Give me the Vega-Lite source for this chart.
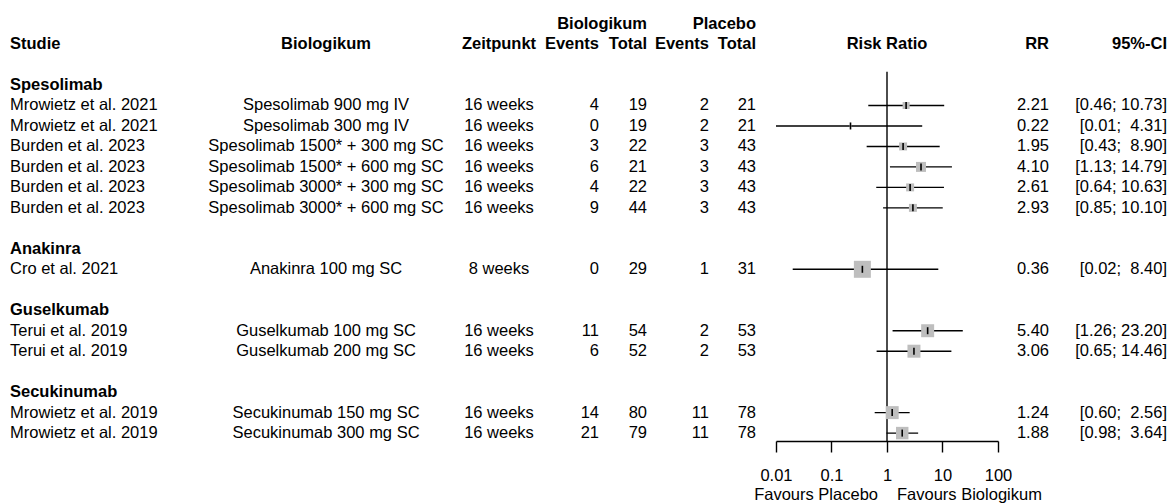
{
  "$schema": "https://vega.github.io/schema/vega-lite/v6.json",
  "padding": {"left": 10, "top": 0, "right": 0, "bottom": 0},
  "background": "white",
  "config": {
    "view": {"stroke": null},
    "text": {"font": "Liberation Sans", "fontSize": 16.5, "color": "black"},
    "concat": {"spacing": 0}
  },
  "datasets": {
    "studies": [
      {"row": 1, "studie": "Mrowietz et al. 2021", "bio": "Spesolimab 900 mg IV", "zeit": "16 weeks", "ev1": 4, "n1": 19, "ev2": 2, "n2": 21, "rr": 2.21, "lo": 0.46, "hi": 10.73, "ci": "[0.46; 10.73]", "w": 3.8},
      {"row": 2, "studie": "Mrowietz et al. 2021", "bio": "Spesolimab 300 mg IV", "zeit": "16 weeks", "ev1": 0, "n1": 19, "ev2": 2, "n2": 21, "rr": 0.22, "lo": 0.01, "hi": 4.31, "ci": "[0.01; \u00a04.31]", "w": 0.3},
      {"row": 3, "studie": "Burden et al. 2023", "bio": "Spesolimab 1500* + 300 mg SC", "zeit": "16 weeks", "ev1": 3, "n1": 22, "ev2": 3, "n2": 43, "rr": 1.95, "lo": 0.43, "hi": 8.90, "ci": "[0.43; \u00a08.90]", "w": 4.9},
      {"row": 4, "studie": "Burden et al. 2023", "bio": "Spesolimab 1500* + 600 mg SC", "zeit": "16 weeks", "ev1": 6, "n1": 21, "ev2": 3, "n2": 43, "rr": 4.10, "lo": 1.13, "hi": 14.79, "ci": "[1.13; 14.79]", "w": 7.7},
      {"row": 5, "studie": "Burden et al. 2023", "bio": "Spesolimab 3000* + 300 mg SC", "zeit": "16 weeks", "ev1": 4, "n1": 22, "ev2": 3, "n2": 43, "rr": 2.61, "lo": 0.64, "hi": 10.63, "ci": "[0.64; 10.63]", "w": 4.9},
      {"row": 6, "studie": "Burden et al. 2023", "bio": "Spesolimab 3000* + 600 mg SC", "zeit": "16 weeks", "ev1": 9, "n1": 44, "ev2": 3, "n2": 43, "rr": 2.93, "lo": 0.85, "hi": 10.10, "ci": "[0.85; 10.10]", "w": 4.9},
      {"row": 9, "studie": "Cro et al. 2021", "bio": "Anakinra 100 mg SC", "zeit": "8 weeks", "ev1": 0, "n1": 29, "ev2": 1, "n2": 31, "rr": 0.36, "lo": 0.02, "hi": 8.40, "ci": "[0.02; \u00a08.40]", "w": 22.3},
      {"row": 12, "studie": "Terui et al. 2019", "bio": "Guselkumab 100 mg SC", "zeit": "16 weeks", "ev1": 11, "n1": 54, "ev2": 2, "n2": 53, "rr": 5.40, "lo": 1.26, "hi": 23.20, "ci": "[1.26; 23.20]", "w": 13},
      {"row": 13, "studie": "Terui et al. 2019", "bio": "Guselkumab 200 mg SC", "zeit": "16 weeks", "ev1": 6, "n1": 52, "ev2": 2, "n2": 53, "rr": 3.06, "lo": 0.65, "hi": 14.46, "ci": "[0.65; 14.46]", "w": 13},
      {"row": 16, "studie": "Mrowietz et al. 2019", "bio": "Secukinumab 150 mg SC", "zeit": "16 weeks", "ev1": 14, "n1": 80, "ev2": 11, "n2": 78, "rr": 1.24, "lo": 0.60, "hi": 2.56, "ci": "[0.60; \u00a02.56]", "w": 13},
      {"row": 17, "studie": "Mrowietz et al. 2019", "bio": "Secukinumab 300 mg SC", "zeit": "16 weeks", "ev1": 21, "n1": 79, "ev2": 11, "n2": 78, "rr": 1.88, "lo": 0.98, "hi": 3.64, "ci": "[0.98; \u00a03.64]", "w": 12}
    ],
    "groups": [
      {"row": 0, "t": "Spesolimab"},
      {"row": 8, "t": "Anakinra"},
      {"row": 11, "t": "Guselkumab"},
      {"row": 15, "t": "Secukinumab"}
    ],
    "headers": [
      {"col": "studie", "row": -2, "t": "Studie"},
      {"col": "bio", "row": -2, "t": "Biologikum"},
      {"col": "zeit", "row": -2, "t": "Zeitpunkt"},
      {"col": "ev1", "row": -2, "t": "Events"},
      {"col": "n1", "row": -3, "t": "Biologikum"},
      {"col": "n1", "row": -2, "t": "Total"},
      {"col": "ev2", "row": -2, "t": "Events"},
      {"col": "n2", "row": -3, "t": "Placebo"},
      {"col": "n2", "row": -2, "t": "Total"},
      {"col": "forest", "row": -2, "t": "Risk Ratio"},
      {"col": "rr", "row": -2, "t": "RR"},
      {"col": "ci", "row": -2, "t": "95%-CI"}
    ],
    "favours": [
      {"row": 20, "t": "Favours Placebo", "side": "left"},
      {"row": 20, "t": "Favours Biologikum", "side": "right"}
    ]
  },
  "spacing": 0,
  "bounds": "flush",
  "hconcat": [
    {
      "width": 220, "height": 441,
      "layer": [
        {"data": {"name": "headers"}, "transform": [{"filter": "datum.col === 'studie'"}],
         "mark": {"type": "text", "align": "left", "fontWeight": "bold"},
         "encoding": {"x": {"value": 0}, "y": {"field": "row", "type": "quantitative", "scale": {"domain": [-4.152, 17.386], "reverse": true, "nice": false, "zero": false}, "axis": null}, "text": {"field": "t"}}},
        {"data": {"name": "groups"},
         "mark": {"type": "text", "align": "left", "fontWeight": "bold"},
         "encoding": {"x": {"value": 0}, "y": {"field": "row", "type": "quantitative", "scale": {"domain": [-4.152, 17.386], "reverse": true, "nice": false, "zero": false}, "axis": null}, "text": {"field": "t"}}},
        {"data": {"name": "studies"},
         "mark": {"type": "text", "align": "left"},
         "encoding": {"x": {"value": 0}, "y": {"field": "row", "type": "quantitative", "scale": {"domain": [-4.152, 17.386], "reverse": true, "nice": false, "zero": false}, "axis": null}, "text": {"field": "studie"}}}
      ]
    },
    {
      "width": 192, "height": 441,
      "layer": [
        {"data": {"name": "headers"}, "transform": [{"filter": "datum.col === 'bio'"}],
         "mark": {"type": "text", "align": "center", "fontWeight": "bold"},
         "encoding": {"y": {"field": "row", "type": "quantitative", "scale": {"domain": [-4.152, 17.386], "reverse": true, "nice": false, "zero": false}, "axis": null}, "text": {"field": "t"}}},
        {"data": {"name": "studies"},
         "mark": {"type": "text", "align": "center"},
         "encoding": {"y": {"field": "row", "type": "quantitative", "scale": {"domain": [-4.152, 17.386], "reverse": true, "nice": false, "zero": false}, "axis": null}, "text": {"field": "bio"}}}
      ]
    },
    {
      "width": 154, "height": 441,
      "layer": [
        {"data": {"name": "headers"}, "transform": [{"filter": "datum.col === 'zeit'"}],
         "mark": {"type": "text", "align": "center", "fontWeight": "bold"},
         "encoding": {"y": {"field": "row", "type": "quantitative", "scale": {"domain": [-4.152, 17.386], "reverse": true, "nice": false, "zero": false}, "axis": null}, "text": {"field": "t"}}},
        {"data": {"name": "studies"},
         "mark": {"type": "text", "align": "center"},
         "encoding": {"y": {"field": "row", "type": "quantitative", "scale": {"domain": [-4.152, 17.386], "reverse": true, "nice": false, "zero": false}, "axis": null}, "text": {"field": "zeit"}}}
      ]
    },
    {
      "width": 23, "height": 441,
      "layer": [
        {"data": {"name": "headers"}, "transform": [{"filter": "datum.col === 'ev1'"}],
         "mark": {"type": "text", "align": "right", "fontWeight": "bold"},
         "encoding": {"x": {"value": "width"}, "y": {"field": "row", "type": "quantitative", "scale": {"domain": [-4.152, 17.386], "reverse": true, "nice": false, "zero": false}, "axis": null}, "text": {"field": "t"}}},
        {"data": {"name": "studies"},
         "mark": {"type": "text", "align": "right"},
         "encoding": {"x": {"value": "width"}, "y": {"field": "row", "type": "quantitative", "scale": {"domain": [-4.152, 17.386], "reverse": true, "nice": false, "zero": false}, "axis": null}, "text": {"field": "ev1"}}}
      ]
    },
    {
      "width": 48, "height": 441,
      "layer": [
        {"data": {"name": "headers"}, "transform": [{"filter": "datum.col === 'n1'"}],
         "mark": {"type": "text", "align": "right", "fontWeight": "bold"},
         "encoding": {"x": {"value": "width"}, "y": {"field": "row", "type": "quantitative", "scale": {"domain": [-4.152, 17.386], "reverse": true, "nice": false, "zero": false}, "axis": null}, "text": {"field": "t"}}},
        {"data": {"name": "studies"},
         "mark": {"type": "text", "align": "right"},
         "encoding": {"x": {"value": "width"}, "y": {"field": "row", "type": "quantitative", "scale": {"domain": [-4.152, 17.386], "reverse": true, "nice": false, "zero": false}, "axis": null}, "text": {"field": "n1"}}}
      ]
    },
    {
      "width": 62, "height": 441,
      "layer": [
        {"data": {"name": "headers"}, "transform": [{"filter": "datum.col === 'ev2'"}],
         "mark": {"type": "text", "align": "right", "fontWeight": "bold"},
         "encoding": {"x": {"value": "width"}, "y": {"field": "row", "type": "quantitative", "scale": {"domain": [-4.152, 17.386], "reverse": true, "nice": false, "zero": false}, "axis": null}, "text": {"field": "t"}}},
        {"data": {"name": "studies"},
         "mark": {"type": "text", "align": "right"},
         "encoding": {"x": {"value": "width"}, "y": {"field": "row", "type": "quantitative", "scale": {"domain": [-4.152, 17.386], "reverse": true, "nice": false, "zero": false}, "axis": null}, "text": {"field": "ev2"}}}
      ]
    },
    {
      "width": 67, "height": 441,
      "layer": [
        {"data": {"name": "headers"}, "transform": [{"filter": "datum.col === 'n2'"}],
         "mark": {"type": "text", "align": "right", "fontWeight": "bold", "dx": -20},
         "encoding": {"x": {"value": "width"}, "y": {"field": "row", "type": "quantitative", "scale": {"domain": [-4.152, 17.386], "reverse": true, "nice": false, "zero": false}, "axis": null}, "text": {"field": "t"}}},
        {"data": {"name": "studies"},
         "mark": {"type": "text", "align": "right", "dx": -20},
         "encoding": {"x": {"value": "width"}, "y": {"field": "row", "type": "quantitative", "scale": {"domain": [-4.152, 17.386], "reverse": true, "nice": false, "zero": false}, "axis": null}, "text": {"field": "n2"}}}
      ]
    },
    {
      "width": 222, "height": 441,
      "layer": [
        {"data": {"values": [{}]},
         "mark": {"type": "rule", "color": "black", "strokeWidth": 1.4},
         "encoding": {
           "x": {"datum": 1, "type": "quantitative", "scale": {"type": "log", "domain": [0.01, 100], "nice": false}, "axis": {"values": [0.01, 0.1, 1, 10, 100], "format": "~g", "title": null, "grid": false, "domainColor": "black", "domainWidth": 1.4, "tickColor": "black", "tickWidth": 1.4, "tickSize": 11, "labelPadding": 15, "labelFont": "Liberation Sans", "labelFontSize": 16.5, "labelColor": "black", "labelFlush": false, "labelOverlap": false}},
           "y": {"datum": -0.65, "type": "quantitative", "scale": {"domain": [-4.152, 17.386], "reverse": true, "nice": false, "zero": false}, "axis": null},
           "y2": {"datum": 17.386}
         }},
        {"data": {"name": "studies"},
         "mark": {"type": "rule", "color": "black", "strokeWidth": 1.4},
         "encoding": {
           "x": {"field": "lo", "type": "quantitative", "scale": {"type": "log", "domain": [0.01, 100], "nice": false}, "axis": {"values": [0.01, 0.1, 1, 10, 100], "format": "~g", "title": null, "grid": false, "domainColor": "black", "domainWidth": 1.4, "tickColor": "black", "tickWidth": 1.4, "tickSize": 11, "labelPadding": 15, "labelFont": "Liberation Sans", "labelFontSize": 16.5, "labelColor": "black", "labelFlush": false, "labelOverlap": false}},
           "x2": {"field": "hi"},
           "y": {"field": "row", "type": "quantitative", "scale": {"domain": [-4.152, 17.386], "reverse": true, "nice": false, "zero": false}, "axis": null}
         }},
        {"data": {"name": "studies"},
         "mark": {"type": "square", "color": "#BEBEBE", "opacity": 1, "filled": true},
         "encoding": {
           "x": {"field": "rr", "type": "quantitative", "scale": {"type": "log", "domain": [0.01, 100], "nice": false}, "axis": {"values": [0.01, 0.1, 1, 10, 100], "format": "~g", "title": null, "grid": false, "domainColor": "black", "domainWidth": 1.4, "tickColor": "black", "tickWidth": 1.4, "tickSize": 11, "labelPadding": 15, "labelFont": "Liberation Sans", "labelFontSize": 16.5, "labelColor": "black", "labelFlush": false, "labelOverlap": false}},
           "y": {"field": "row", "type": "quantitative", "scale": {"domain": [-4.152, 17.386], "reverse": true, "nice": false, "zero": false}, "axis": null},
           "size": {"field": "w", "type": "quantitative", "scale": {"type": "linear", "domain": [0, 22.3], "range": [0, 289], "zero": true}, "legend": null}
         }},
        {"data": {"name": "studies"},
         "mark": {"type": "tick", "orient": "vertical", "size": 7, "thickness": 1.6, "color": "black", "opacity": 1},
         "encoding": {
           "x": {"field": "rr", "type": "quantitative", "scale": {"type": "log", "domain": [0.01, 100], "nice": false}, "axis": {"values": [0.01, 0.1, 1, 10, 100], "format": "~g", "title": null, "grid": false, "domainColor": "black", "domainWidth": 1.4, "tickColor": "black", "tickWidth": 1.4, "tickSize": 11, "labelPadding": 15, "labelFont": "Liberation Sans", "labelFontSize": 16.5, "labelColor": "black", "labelFlush": false, "labelOverlap": false}},
           "y": {"field": "row", "type": "quantitative", "scale": {"domain": [-4.152, 17.386], "reverse": true, "nice": false, "zero": false}, "axis": null}
         }},
        {"data": {"name": "headers"}, "transform": [{"filter": "datum.col === 'forest'"}],
         "mark": {"type": "text", "align": "center", "fontWeight": "bold"},
         "encoding": {
           "x": {"datum": 1, "type": "quantitative", "scale": {"type": "log", "domain": [0.01, 100], "nice": false}, "axis": {"values": [0.01, 0.1, 1, 10, 100], "format": "~g", "title": null, "grid": false, "domainColor": "black", "domainWidth": 1.4, "tickColor": "black", "tickWidth": 1.4, "tickSize": 11, "labelPadding": 15, "labelFont": "Liberation Sans", "labelFontSize": 16.5, "labelColor": "black", "labelFlush": false, "labelOverlap": false}},
           "y": {"field": "row", "type": "quantitative", "scale": {"domain": [-4.152, 17.386], "reverse": true, "nice": false, "zero": false}, "axis": null},
           "text": {"field": "t"}
         }},
        {"data": {"name": "favours"}, "transform": [{"filter": "datum.side === 'left'"}],
         "mark": {"type": "text", "align": "right", "dx": -9},
         "encoding": {
           "x": {"datum": 1, "type": "quantitative", "scale": {"type": "log", "domain": [0.01, 100], "nice": false}, "axis": {"values": [0.01, 0.1, 1, 10, 100], "format": "~g", "title": null, "grid": false, "domainColor": "black", "domainWidth": 1.4, "tickColor": "black", "tickWidth": 1.4, "tickSize": 11, "labelPadding": 15, "labelFont": "Liberation Sans", "labelFontSize": 16.5, "labelColor": "black", "labelFlush": false, "labelOverlap": false}},
           "y": {"field": "row", "type": "quantitative", "scale": {"domain": [-4.152, 17.386], "reverse": true, "nice": false, "zero": false}, "axis": null},
           "text": {"field": "t"}
         }},
        {"data": {"name": "favours"}, "transform": [{"filter": "datum.side === 'right'"}],
         "mark": {"type": "text", "align": "left", "dx": 10},
         "encoding": {
           "x": {"datum": 1, "type": "quantitative", "scale": {"type": "log", "domain": [0.01, 100], "nice": false}, "axis": {"values": [0.01, 0.1, 1, 10, 100], "format": "~g", "title": null, "grid": false, "domainColor": "black", "domainWidth": 1.4, "tickColor": "black", "tickWidth": 1.4, "tickSize": 11, "labelPadding": 15, "labelFont": "Liberation Sans", "labelFontSize": 16.5, "labelColor": "black", "labelFlush": false, "labelOverlap": false}},
           "y": {"field": "row", "type": "quantitative", "scale": {"domain": [-4.152, 17.386], "reverse": true, "nice": false, "zero": false}, "axis": null},
           "text": {"field": "t"}
         }}
      ]
    },
    {
      "width": 51, "height": 441,
      "layer": [
        {"data": {"name": "headers"}, "transform": [{"filter": "datum.col === 'rr'"}],
         "mark": {"type": "text", "align": "right", "fontWeight": "bold"},
         "encoding": {"x": {"value": "width"}, "y": {"field": "row", "type": "quantitative", "scale": {"domain": [-4.152, 17.386], "reverse": true, "nice": false, "zero": false}, "axis": null}, "text": {"field": "t"}}},
        {"data": {"name": "studies"},
         "mark": {"type": "text", "align": "right"},
         "encoding": {"x": {"value": "width"}, "y": {"field": "row", "type": "quantitative", "scale": {"domain": [-4.152, 17.386], "reverse": true, "nice": false, "zero": false}, "axis": null}, "text": {"field": "rr", "format": ".2f"}}}
      ]
    },
    {
      "width": 118, "height": 441,
      "layer": [
        {"data": {"name": "headers"}, "transform": [{"filter": "datum.col === 'ci'"}],
         "mark": {"type": "text", "align": "right", "fontWeight": "bold"},
         "encoding": {"x": {"value": "width"}, "y": {"field": "row", "type": "quantitative", "scale": {"domain": [-4.152, 17.386], "reverse": true, "nice": false, "zero": false}, "axis": null}, "text": {"field": "t"}}},
        {"data": {"name": "studies"},
         "mark": {"type": "text", "align": "right"},
         "encoding": {"x": {"value": "width"}, "y": {"field": "row", "type": "quantitative", "scale": {"domain": [-4.152, 17.386], "reverse": true, "nice": false, "zero": false}, "axis": null}, "text": {"field": "ci"}}}
      ]
    }
  ]
}
